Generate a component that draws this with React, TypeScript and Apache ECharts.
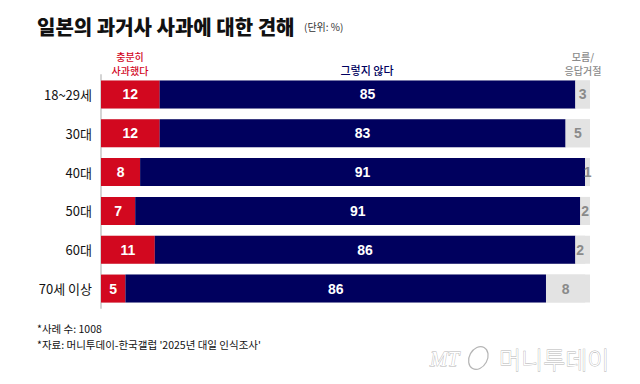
import React, { useEffect, useRef } from "react";
import * as echarts from "echarts";

const categories = ["18~29세", "30대", "40대", "50대", "60대", "70세 이상"];
const apologized = [12, 12, 8, 7, 11, 5];
const notEnough = [85, 83, 91, 91, 86, 86];
const dontKnow = [3, 5, 1, 2, 2, 8];

const RED = "#d2081f";
const NAVY = "#00005e";
const GRAY = "#e3e3e3";
const KR = "'Noto Sans CJK KR', 'Noto Sans', sans-serif";
const NUM = "'Liberation Sans', Arial, sans-serif";

export default function App() {
  const ref = useRef<HTMLDivElement>(null);
  useEffect(() => {
    if (!ref.current) return;
    const chart = echarts.init(ref.current, undefined, { renderer: "svg" });
    const header = (text: string, x: number, y: number, fill: string, size = 10) => ({
      type: "text",
      x,
      y,
      style: {
        text,
        fontSize: size,
        fontFamily: KR,
        fontWeight: 500,
        fill,
        align: "center",
        verticalAlign: "middle",
      },
    });
    chart.setOption({
      animation: false,
      backgroundColor: "#ffffff",
      grid: { left: 101, right: 50, top: 75, bottom: 76, containLabel: false },
      xAxis: {
        type: "value",
        min: 0,
        max: 100,
        show: false,
      },
      yAxis: {
        type: "category",
        data: categories,
        inverse: true,
        axisTick: { show: false },
        axisLine: { show: true, lineStyle: { color: "#d4d4d4", width: 2 } },
        axisLabel: { color: "#111", fontSize: 13, fontFamily: KR, margin: 9 },
      },
      series: [
        {
          name: "충분히 사과했다",
          type: "bar",
          stack: "all",
          barWidth: 28,
          data: apologized,
          showBackground: true,
          backgroundStyle: { color: GRAY },
          itemStyle: { color: RED },
          label: {
            show: true,
            position: "inside",
            color: "#fff",
            fontSize: 14,
            fontWeight: "bold",
            fontFamily: NUM,
          },
        },
        {
          name: "그렇지 않다",
          type: "bar",
          stack: "all",
          barWidth: 28,
          data: notEnough,
          itemStyle: { color: NAVY },
          label: {
            show: true,
            position: "inside",
            color: "#fff",
            fontSize: 14,
            fontWeight: "bold",
            fontFamily: NUM,
          },
        },
        {
          name: "모름/응답거절",
          type: "bar",
          stack: "all",
          barWidth: 28,
          data: dontKnow,
          itemStyle: { color: GRAY },
          label: {
            show: true,
            position: "inside",
            color: "#8a8a8a",
            fontSize: 14,
            fontWeight: "bold",
            fontFamily: NUM,
          },
        },
      ],
      graphic: [
        {
          type: "text",
          left: 37,
          top: 16,
          style: {
            text: "일본의 과거사 사과에 대한 견해",
            fontSize: 20,
            fontWeight: 900,
            fontFamily: KR,
            fill: "#111",
          },
        },
        {
          type: "text",
          left: 304,
          top: 21,
          style: {
            text: "(단위: %)",
            fontSize: 10,
            fontFamily: KR,
            fill: "#333",
          },
        },
        header("충분히", 130, 56, RED),
        header("사과했다", 130, 70, RED),
        header("그렇지 않다", 367, 70, NAVY, 11),
        header("모름/", 583, 56, "#8a8a8a"),
        header("응답거절", 583, 70, "#8a8a8a"),
        {
          type: "text",
          left: 37,
          top: 323,
          style: {
            text: "*사례 수: 1008",
            fontSize: 10.5,
            fontFamily: KR,
            fill: "#111",
          },
        },
        {
          type: "text",
          left: 37,
          top: 339,
          style: {
            text: "*자료: 머니투데이-한국갤럽 '2025년 대일 인식조사'",
            fontSize: 10.5,
            fontFamily: KR,
            fill: "#111",
          },
        },
        {
          type: "text",
          x: 430,
          y: 359,
          style: {
            text: "MT",
            fontSize: 21,
            fontStyle: "italic",
            fontFamily: "'Liberation Serif', serif",
            fill: "#ffffff",
            stroke: "#b5b5b5",
            lineWidth: 0.8,
            verticalAlign: "middle",
          },
        },
        {
          type: "ellipse",
          shape: { cx: 478, cy: 358, rx: 9, ry: 12 },
          rotation: -0.5,
          originX: 478,
          originY: 358,
          style: { fill: "none", stroke: "#b5b5b5", lineWidth: 1.2 },
        },
        {
          type: "text",
          x: 499,
          y: 358,
          style: {
            text: "머니투데이",
            fontSize: 24,
            fontFamily: KR,
            fontWeight: 300,
            fill: "#ffffff",
            stroke: "#b5b5b5",
            lineWidth: 0.8,
            verticalAlign: "middle",
          },
        },
      ],
    });
    return () => chart.dispose();
  }, []);
  return (
    <div
      ref={ref}
      style={{ position: "fixed", left: 0, top: 0, width: 640, height: 384 }}
    />
  );
}
